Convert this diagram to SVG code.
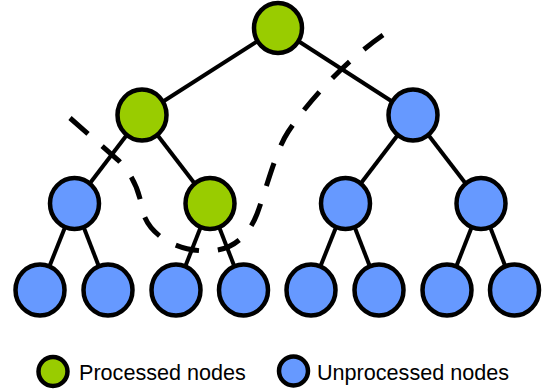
<svg xmlns="http://www.w3.org/2000/svg" width="549" height="392" viewBox="0 0 549 392">
<style>
.node{stroke:#000;stroke-width:4.5}
.done{fill:#99CC00}
.todo{fill:#6699FF}
.edge{stroke:#000;stroke-width:4;fill:none}
.cut{stroke:#000;stroke-width:5;fill:none;stroke-dasharray:23 18}
.lbl{font-family:"Liberation Sans",Arial,sans-serif;font-size:21.6px;fill:#000}
</style>
<rect width="549" height="392" fill="#fff"/>
<g id="connectors">
<line class="edge" x1="278" y1="28" x2="142" y2="115"/>
<line class="edge" x1="278" y1="28" x2="413" y2="115"/>
<line class="edge" x1="142" y1="115" x2="74.5" y2="203.5"/>
<line class="edge" x1="142" y1="115" x2="210" y2="203.5"/>
<line class="edge" x1="413" y1="115" x2="345.5" y2="203.5"/>
<line class="edge" x1="413" y1="115" x2="481" y2="203.5"/>
<line class="edge" x1="74.5" y1="203.5" x2="40" y2="290"/>
<line class="edge" x1="74.5" y1="203.5" x2="108" y2="290"/>
<line class="edge" x1="210" y1="203.5" x2="176" y2="290"/>
<line class="edge" x1="210" y1="203.5" x2="243.5" y2="290"/>
<line class="edge" x1="345.5" y1="203.5" x2="311" y2="290"/>
<line class="edge" x1="345.5" y1="203.5" x2="379" y2="290"/>
<line class="edge" x1="481" y1="203.5" x2="447" y2="290"/>
<line class="edge" x1="481" y1="203.5" x2="514.5" y2="290"/>
</g>
<g id="n-root"><ellipse class="node done" cx="278" cy="28" rx="24" ry="25"/></g>
<g id="n-l"><ellipse class="node done" cx="142" cy="115" rx="24.5" ry="25.5"/></g>
<g id="n-r"><ellipse class="node todo" cx="413" cy="115" rx="24.5" ry="25.5"/></g>
<g id="n-ll"><ellipse class="node todo" cx="74.5" cy="203.5" rx="24.5" ry="25.5"/></g>
<g id="n-lr"><ellipse class="node done" cx="210" cy="203.5" rx="24.5" ry="25.5"/></g>
<g id="n-rl"><ellipse class="node todo" cx="345.5" cy="203.5" rx="24.5" ry="25.5"/></g>
<g id="n-rr"><ellipse class="node todo" cx="481" cy="203.5" rx="24.5" ry="25.5"/></g>
<g id="n-lll"><ellipse class="node todo" cx="40" cy="290" rx="24.5" ry="25.5"/></g>
<g id="n-llr"><ellipse class="node todo" cx="108" cy="290" rx="24.5" ry="25.5"/></g>
<g id="n-lrl"><ellipse class="node todo" cx="176" cy="290" rx="24.5" ry="25.5"/></g>
<g id="n-lrr"><ellipse class="node todo" cx="243.5" cy="290" rx="24.5" ry="25.5"/></g>
<g id="n-rll"><ellipse class="node todo" cx="311" cy="290" rx="24.5" ry="25.5"/></g>
<g id="n-rlr"><ellipse class="node todo" cx="379" cy="290" rx="24.5" ry="25.5"/></g>
<g id="n-rrl"><ellipse class="node todo" cx="447" cy="290" rx="24.5" ry="25.5"/></g>
<g id="n-rrr"><ellipse class="node todo" cx="514.5" cy="290" rx="24.5" ry="25.5"/></g>
<g id="cut">
<path class="cut" pathLength="474" d="M 70 118 L 118 160 C 132 174, 139 190, 142 208 C 146 232, 172 250, 205 251 C 235 252, 250 232, 257 214 C 266 190, 276 150, 288 132 C 305 106, 340 65, 383 35"/>
</g>
<g id="legend">
<circle class="node done" cx="53" cy="371.5" r="14.5"/>
<text class="lbl" x="79" y="379.5">Processed nodes</text>
<circle class="node todo" cx="293.5" cy="371" r="14.5"/>
<text class="lbl" x="317" y="379.5">Unprocessed nodes</text>
</g>
</svg>
